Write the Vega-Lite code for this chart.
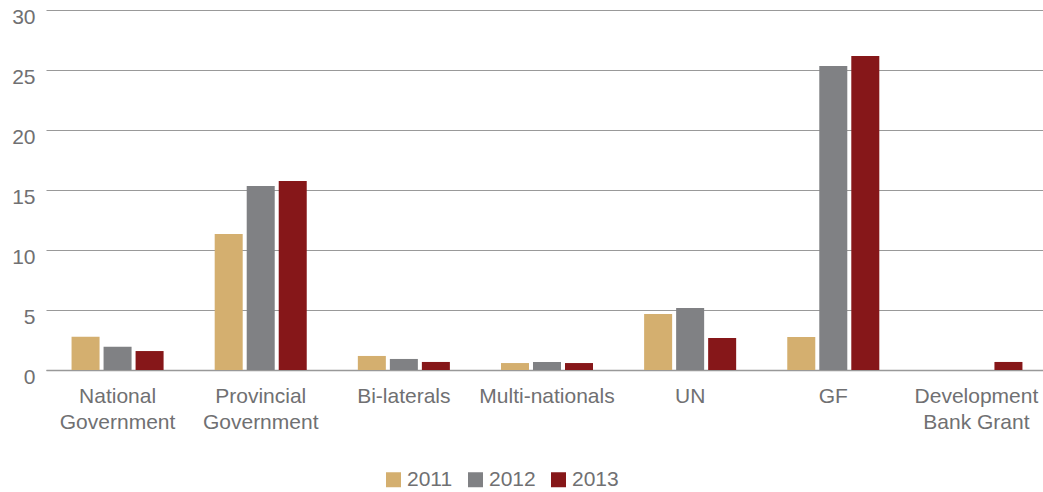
{
  "$schema": "https://vega.github.io/schema/vega-lite/v6.json",
  "width": 997,
  "height": 360,
  "autosize": {"type": "none"},
  "padding": {"left": 46, "top": 10, "right": 0, "bottom": 122},
  "background": "white",
  "config": {
    "view": {"stroke": null},
    "font": "Liberation Sans",
    "axis": {"labelFont": "Liberation Sans", "labelColor": "#707072", "labelFontSize": 21}
  },
  "data": {
    "values": [
      {"source": "National Government", "year": "2011", "value": 2.78},
      {"source": "National Government", "year": "2012", "value": 1.94},
      {"source": "National Government", "year": "2013", "value": 1.58},
      {"source": "Provincial Government", "year": "2011", "value": 11.33},
      {"source": "Provincial Government", "year": "2012", "value": 15.33},
      {"source": "Provincial Government", "year": "2013", "value": 15.75},
      {"source": "Bi-laterals", "year": "2011", "value": 1.17},
      {"source": "Bi-laterals", "year": "2012", "value": 0.92},
      {"source": "Bi-laterals", "year": "2013", "value": 0.67},
      {"source": "Multi-nationals", "year": "2011", "value": 0.58},
      {"source": "Multi-nationals", "year": "2012", "value": 0.67},
      {"source": "Multi-nationals", "year": "2013", "value": 0.58},
      {"source": "UN", "year": "2011", "value": 4.67},
      {"source": "UN", "year": "2012", "value": 5.17},
      {"source": "UN", "year": "2013", "value": 2.67},
      {"source": "GF", "year": "2011", "value": 2.75},
      {"source": "GF", "year": "2012", "value": 25.33},
      {"source": "GF", "year": "2013", "value": 26.17},
      {"source": "Development Bank Grant", "year": "2011", "value": 0},
      {"source": "Development Bank Grant", "year": "2012", "value": 0},
      {"source": "Development Bank Grant", "year": "2013", "value": 0.67}
    ]
  },
  "mark": {"type": "bar"},
  "encoding": {
    "x": {
      "field": "source",
      "type": "nominal",
      "sort": null,
      "title": null,
      "scale": {"paddingInner": 0.357, "paddingOuter": 0.1785, "range": [0, 1002]},
      "axis": {
        "labelAngle": 0,
        "ticks": false,
        "domainColor": "#999999",
        "domainWidth": 1.5,
        "labelPadding": 15,
        "labelBaseline": "top",
        "labelLineHeight": 26,
        "labelExpr": "datum.value == 'National Government' ? ['National', 'Government'] : datum.value == 'Provincial Government' ? ['Provincial', 'Government'] : datum.value == 'Development Bank Grant' ? ['Development', 'Bank Grant'] : datum.value"
      }
    },
    "xOffset": {
      "field": "year",
      "type": "nominal",
      "scale": {"paddingInner": 0.125, "paddingOuter": 0}
    },
    "y": {
      "field": "value",
      "type": "quantitative",
      "title": null,
      "scale": {"domain": [0, 30], "nice": false},
      "axis": {
        "values": [0, 5, 10, 15, 20, 25, 30],
        "domain": false,
        "ticks": false,
        "gridColor": "#999999",
        "gridWidth": 1,
        "labelPadding": 11,
        "labelOffset": 7
      }
    },
    "color": {
      "field": "year",
      "type": "nominal",
      "title": null,
      "scale": {"domain": ["2011", "2012", "2013"], "range": ["#D4AF6F", "#808184", "#861719"]},
      "legend": {
        "orient": "none",
        "direction": "horizontal",
        "legendX": 337,
        "legendY": 459,
        "padding": 0,
        "symbolType": "square",
        "symbolSize": 225,
        "symbolStrokeWidth": 0,
        "labelFontSize": 21,
        "labelColor": "#707072",
        "labelFont": "Liberation Sans",
        "labelOffset": 3,
        "columnPadding": 12
      }
    }
  }
}
